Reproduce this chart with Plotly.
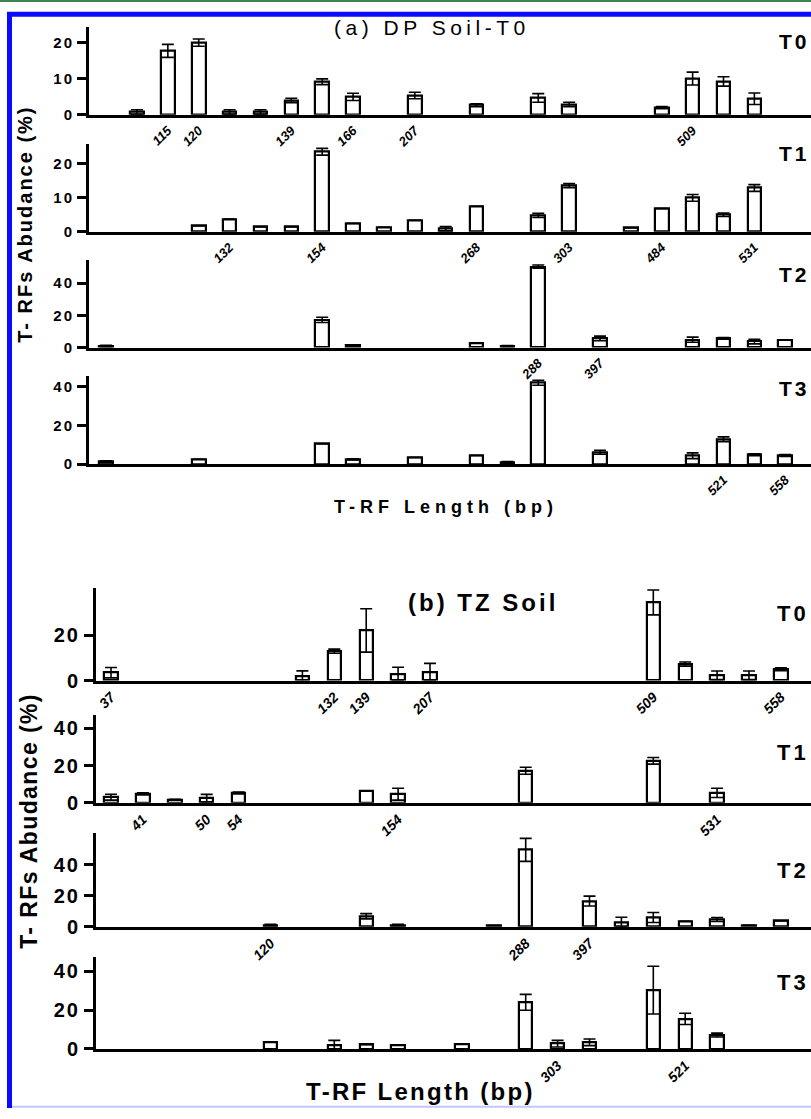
import plotly.graph_objects as go

# ---------------- data (slot index along the T-RF axis, abundance %, SD) ----------------
# Panel (a) DP soil
a_T0_slots = [1, 2, 3, 4, 5, 6, 7, 8, 10, 12, 14, 15, 18, 19, 20, 21]
a_T0_vals = [0.8, 17.8, 20.1, 0.8, 0.8, 4.0, 9.2, 5.0, 5.4, 2.7, 4.7, 2.9, 2.0, 10.1, 9.3, 4.5]
a_T0_errs = [0.6, 1.8, 1.0, 0.6, 0.6, 0.6, 0.8, 1.0, 0.9, 0.4, 1.2, 0.6, 0.3, 1.8, 1.3, 1.6]
a_T0_tick_slots = [2, 3, 6, 8, 10, 19]
a_T0_tick_text = ["115", "120", "139", "166", "207", "509"]

a_T1_slots = [3, 4, 5, 6, 7, 8, 9, 10, 11, 12, 14, 15, 17, 18, 19, 20, 21]
a_T1_vals = [1.7, 3.7, 1.4, 1.4, 23.6, 2.4, 1.3, 3.4, 0.9, 7.5, 4.8, 13.6, 1.1, 6.8, 10.0, 5.0, 12.9]
a_T1_errs = [None, None, None, None, 1.0, None, None, None, 0.6, None, 0.6, 0.6, None, None, 1.0, 0.5, 1.0]
a_T1_tick_slots = [4, 7, 12, 15, 18, 21]
a_T1_tick_text = ["132", "154", "268", "303", "484", "531"]

a_T2_slots = [0, 7, 8, 12, 13, 14, 16, 19, 20, 21, 22]
a_T2_vals = [1.0, 17.2, 1.3, 2.5, 1.0, 50.3, 5.7, 4.9, 5.7, 3.7, 4.7]
a_T2_errs = [0.4, 1.6, 0.4, None, 0.3, 1.0, 1.4, 1.6, 0.5, 1.4, None]
a_T2_tick_slots = [14, 16]
a_T2_tick_text = ["288", "397"]

a_T3_slots = [0, 3, 7, 8, 10, 12, 13, 14, 16, 19, 20, 21, 22]
a_T3_vals = [1.2, 2.5, 10.4, 2.4, 3.4, 4.4, 1.0, 41.9, 6.1, 4.3, 12.8, 4.8, 4.4]
a_T3_errs = [0.5, None, None, 0.3, None, None, 0.3, 1.3, 1.0, 1.5, 1.2, 0.5, 0.5]
a_T3_tick_slots = [20, 22]
a_T3_tick_text = ["521", "558"]

# Panel (b) TZ soil
b_T0_slots = [0, 6, 7, 8, 9, 10, 17, 18, 19, 20, 21]
b_T0_vals = [3.5, 2.0, 13.0, 22.2, 2.9, 3.8, 34.6, 7.3, 2.3, 2.3, 5.0]
b_T0_errs = [2.3, 2.3, 0.9, 9.6, 3.0, 3.8, 5.5, 0.9, 1.9, 1.9, 0.6]
b_T0_tick_slots = [0, 7, 8, 10, 17, 21]
b_T0_tick_text = ["37", "132", "139", "207", "509", "558"]

b_T1_slots = [0, 1, 2, 3, 4, 8, 9, 13, 17, 19]
b_T1_vals = [3.0, 4.8, 1.6, 2.5, 5.2, 6.2, 4.6, 17.2, 22.6, 5.3]
b_T1_errs = [1.6, 0.6, 0.3, 2.0, 0.5, None, 3.2, 1.9, 1.8, 2.5]
b_T1_tick_slots = [1, 3, 4, 9, 19]
b_T1_tick_text = ["41", "50", "54", "154", "531"]

b_T2_slots = [5, 8, 9, 12, 13, 15, 16, 17, 18, 19, 20, 21]
b_T2_vals = [1.2, 6.8, 1.2, 0.8, 49.6, 16.6, 3.0, 6.0, 3.6, 4.7, 1.0, 3.8]
b_T2_errs = [0.4, 1.7, 0.4, None, 7.4, 3.2, 3.2, 3.2, None, 1.3, None, None]
b_T2_tick_slots = [5, 13, 15]
b_T2_tick_text = ["120", "288", "397"]

b_T3_slots = [5, 7, 8, 9, 11, 13, 14, 15, 17, 18, 19]
b_T3_vals = [3.4, 1.9, 2.2, 1.9, 2.6, 24.0, 2.7, 3.4, 30.3, 15.5, 7.1]
b_T3_errs = [None, 2.5, None, None, None, 4.1, 1.7, 1.7, 12.3, 2.9, 1.0]
b_T3_tick_slots = [14, 18]
b_T3_tick_text = ["303", "521"]

a_ytick_vals = [[0, 10, 20], [0, 10, 20], [0, 20, 40], [0, 20, 40]]
b_ytick_vals = [[0, 20], [0, 20, 40], [0, 20, 40], [0, 20, 40]]
time_labels = ["T0", "T1", "T2", "T3"]

# ---------------- layout geometry (pixels) ----------------
W, H = 811, 1119
def PX(x): return x / W
def PY(y): return 1 - y / H

FONT = "Liberation Sans, Arial, sans-serif"
def sp(t, ls):
    return '<span style="letter-spacing:%spx">%s</span>' % (ls, t)

panels = [
    dict(series=[(a_T0_slots, a_T0_vals, a_T0_errs, a_T0_tick_slots, a_T0_tick_text),
                 (a_T1_slots, a_T1_vals, a_T1_errs, a_T1_tick_slots, a_T1_tick_text),
                 (a_T2_slots, a_T2_vals, a_T2_errs, a_T2_tick_slots, a_T2_tick_text),
                 (a_T3_slots, a_T3_vals, a_T3_errs, a_T3_tick_slots, a_T3_tick_text)],
         yticks=a_ytick_vals, axis_x=89, slot0=106.1, step=30.87, barw=0.44,
         rows=[(116.0, 27.0, 3.63), (234.0, 145.0, 3.42), (351.0, 262.7, 1.625), (468.7, 379.3, 1.96)],
         tlab_y=[42, 155, 277, 392], tlab_x=777, tlab_size=21, ytick_size=15, xtick_size=13),
    dict(series=[(b_T0_slots, b_T0_vals, b_T0_errs, b_T0_tick_slots, b_T0_tick_text),
                 (b_T1_slots, b_T1_vals, b_T1_errs, b_T1_tick_slots, b_T1_tick_text),
                 (b_T2_slots, b_T2_vals, b_T2_errs, b_T2_tick_slots, b_T2_tick_text),
                 (b_T3_slots, b_T3_vals, b_T3_errs, b_T3_tick_slots, b_T3_tick_text)],
         yticks=b_ytick_vals, axis_x=96, slot0=111.0, step=31.9, barw=0.42,
         rows=[(687.3, 594.0, 2.28), (810.7, 722.0, 1.875), (936.0, 841.7, 1.567), (1059.3, 966.7, 1.96)],
         tlab_y=[620, 760, 879, 992], tlab_x=775, tlab_size=22, ytick_size=20, xtick_size=14),
]

fig = go.Figure()
layout = dict(width=W, height=H, margin=dict(l=0, r=0, t=0, b=0),
              paper_bgcolor="white", plot_bgcolor="rgba(0,0,0,0)",
              showlegend=False, bargap=0)
annotations = []
k = 0
for p in panels:
    xr = [(p["axis_x"] - p["slot0"]) / p["step"], (W - p["slot0"]) / p["step"]]
    for r, (ser, row, yt) in enumerate(zip(p["series"], p["rows"], p["yticks"])):
        k += 1
        slots, vals, errs, tslots, ttext = ser
        bottom, top, ppu = row
        ymax = (bottom - top) / ppu
        xa = "x" if k == 1 else "x%d" % k
        ya = "y" if k == 1 else "y%d" % k
        fig.add_trace(go.Bar(
            x=slots, y=vals, width=p["barw"], xaxis=xa, yaxis=ya,
            marker=dict(color="white", line=dict(color="black", width=2.2)),
            error_y=dict(type="data", array=errs, symmetric=True, color="black",
                         thickness=1.6, width=6),
        ))
        layout["xaxis" if k == 1 else "xaxis%d" % k] = dict(
            domain=[PX(p["axis_x"]), 1], range=xr, anchor=ya,
            showline=True, linecolor="black", linewidth=3, ticks="",
            tickvals=tslots, ticktext=ttext, tickangle=-45,
            tickfont=dict(family=FONT, size=p["xtick_size"], color="black",
                          weight="bold", style="italic"),
            showgrid=False, zeroline=False, fixedrange=True,
        )
        layout["yaxis" if k == 1 else "yaxis%d" % k] = dict(
            domain=[PY(bottom), PY(top)], range=[0, ymax], anchor=xa,
            showline=True, linecolor="black", linewidth=3,
            ticks="outside", ticklen=9, tickwidth=2.5, tickcolor="black",
            tickvals=yt, ticktext=[sp(str(v), 2) for v in yt],
            tickfont=dict(family=FONT, size=p["ytick_size"], color="black", weight="bold"),
            showgrid=False, zeroline=False, fixedrange=True,
        )
        annotations.append(dict(
            text=sp(time_labels[r], 3), x=PX(p["tlab_x"]), y=PY(p["tlab_y"][r]),
            xref="paper", yref="paper", xanchor="left", yanchor="middle", showarrow=False,
            font=dict(family=FONT, size=p["tlab_size"], color="black", weight="bold")))

# titles
annotations += [
    dict(text=sp("(a) DP Soil-T0", 4.5), x=PX(432), y=PY(28), xref="paper", yref="paper",
         xanchor="center", yanchor="middle", showarrow=False,
         font=dict(family=FONT, size=21, color="black")),
    dict(text=sp("(b) TZ Soil", 3), x=PX(483), y=PY(608), xref="paper", yref="paper",
         xanchor="center", yanchor="middle", showarrow=False,
         font=dict(family=FONT, size=24, color="black", weight="bold")),
    dict(text=sp("T-RF Length (bp)", 5), x=PX(446), y=PY(512), xref="paper", yref="paper",
         xanchor="center", yanchor="middle", showarrow=False,
         font=dict(family=FONT, size=18, color="black", weight="bold")),
    dict(text=sp("T-RF Length (bp)", 2.3), x=PX(420), y=PY(1102), xref="paper", yref="paper",
         xanchor="center", yanchor="middle", showarrow=False,
         font=dict(family=FONT, size=24, color="black", weight="bold")),
    dict(text=sp("T- RFs Abudance (%)", 2), x=PX(25), y=PY(227), xref="paper", yref="paper",
         xanchor="center", yanchor="middle", textangle=-90, showarrow=False,
         font=dict(family=FONT, size=20, color="black", weight="bold")),
    dict(text=sp("T- RFs Abudance (%)", 1.4), x=PX(29), y=PY(829), xref="paper", yref="paper",
         xanchor="center", yanchor="middle", textangle=-90, showarrow=False,
         font=dict(family=FONT, size=23, color="black", weight="bold")),
]
layout["annotations"] = annotations

# frame lines
layout["shapes"] = [
    dict(type="line", xref="paper", yref="paper", x0=0, x1=1, y0=PY(1), y1=PY(1),
         line=dict(color="#3f8450", width=2)),
    dict(type="line", xref="paper", yref="paper", x0=PX(7), x1=1, y0=PY(14.5), y1=PY(14.5),
         line=dict(color="#0a0aff", width=5)),
    dict(type="line", xref="paper", yref="paper", x0=PX(9.5), x1=PX(9.5), y0=PY(12), y1=0,
         line=dict(color="#0a0aff", width=5)),
    dict(type="line", xref="paper", yref="paper", x0=PX(12), x1=1, y0=PY(1117.8), y1=PY(1117.8),
         line=dict(color="#c4c4ff", width=2)),
]

fig.update_layout(**layout)
fig.write_html("out.html")
